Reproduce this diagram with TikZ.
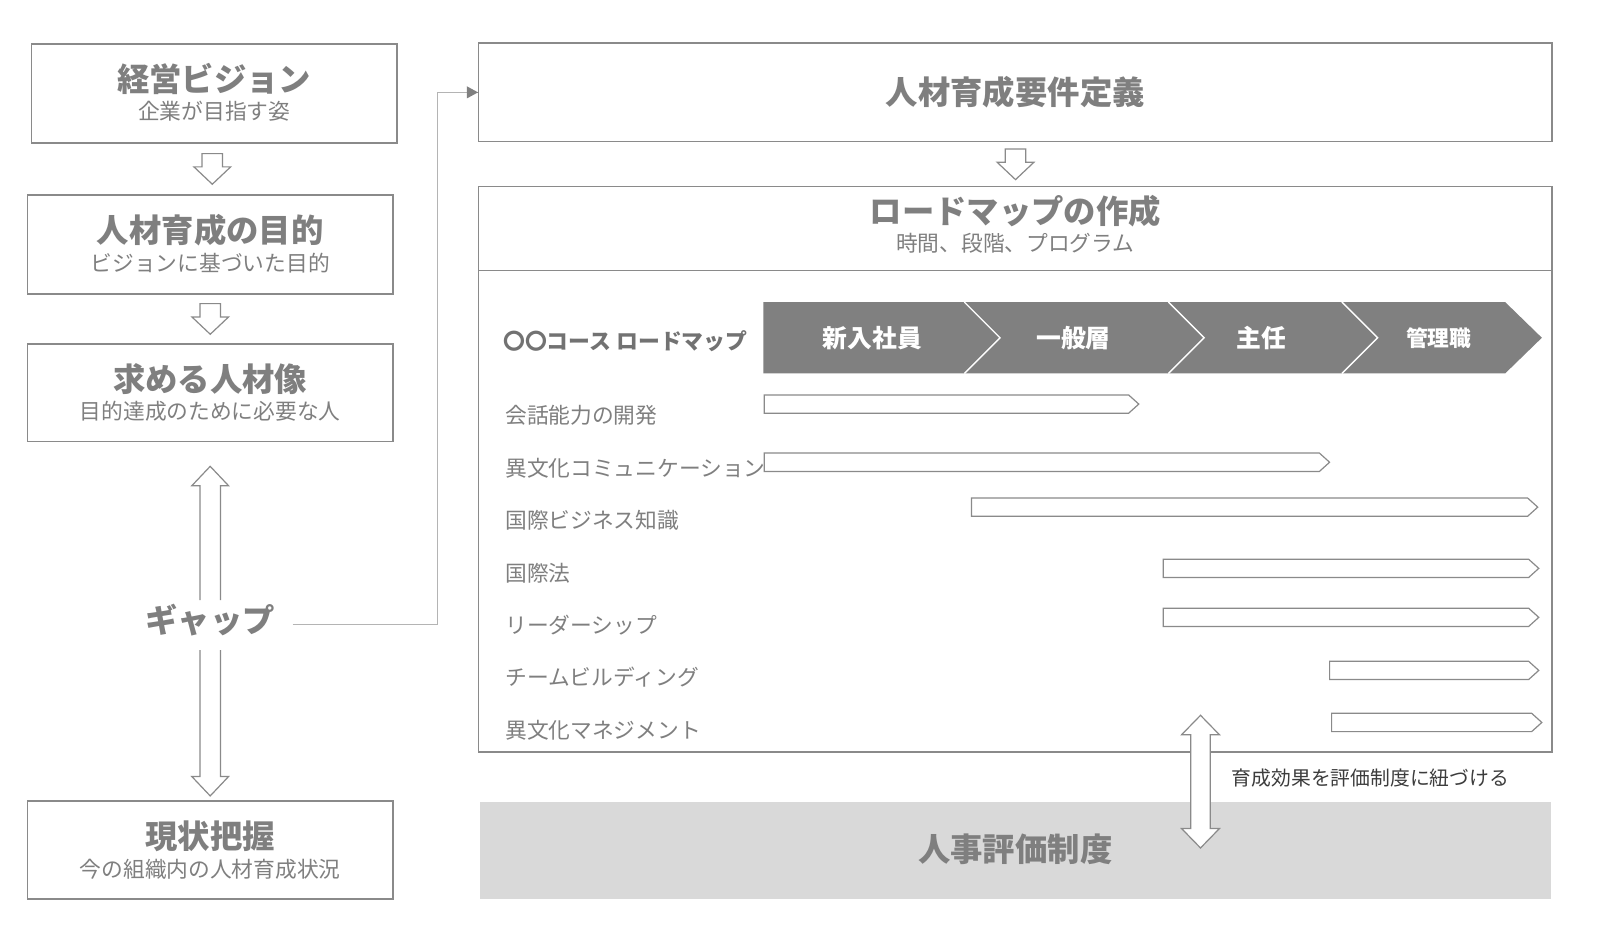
\documentclass[tikz,border=0pt]{standalone}
\usepackage{fontspec}
\setmainfont{Noto Sans CJK JP}
\usetikzlibrary{arrows.meta,calc}
\definecolor{tg}{HTML}{7F7F7F}
\definecolor{bd}{HTML}{8A8A8A}
\definecolor{chev}{HTML}{808080}
\definecolor{pale}{HTML}{D9D9D9}
\definecolor{ln}{HTML}{B4B4B4}
\definecolor{dk}{HTML}{3C3C3C}
\tikzset{
  box/.style={draw=bd, line width=1.3pt, fill=white, minimum width=358pt, minimum height=97pt, inner sep=0pt},
  ttl/.style={font=\fontsize{31.7}{32}\selectfont\bfseries, text=tg, inner sep=0pt},
  sub/.style={font=\fontsize{21.3}{22}\selectfont, text=tg, inner sep=0pt},
  lbl/.style={font=\fontsize{21.3}{22}\selectfont, text=tg, inner sep=0pt, anchor=west},
  chl/.style={font=\fontsize{24.3}{25}\selectfont\bfseries, text=white, inner sep=0pt},
  bar/.style={draw=bd, line width=1.2pt, fill=white, line join=miter},
  harrow/.style={draw=bd, line width=1.2pt, fill=white, line join=miter},
  conn/.style={draw=ln, line width=1.2pt},
  divl/.style={draw=white, line width=1.4pt},
}
\newcommand\blockdown{%
  \draw[harrow] (-10,-15) -- (10,-15) -- (10,-2) -- (18,-2) -- (0,15) -- (-18,-2) -- (-10,-2) -- cycle;}
\newcommand\rmbar[3]{% x start, x end, y center
  \draw[bar] (#1,#3-9) -- (#2-10,#3-9) -- (#2,#3) -- (#2-10,#3+9) -- (#1,#3+9) -- cycle;}
\begin{document}
\begin{tikzpicture}[x=1pt,y=-1pt]
\useasboundingbox (0,0) rectangle (1600,943);
\begin{scope}[scale=1.0204, transform shape]
% left column
\node[box] (b1) at (210,91.5) {};
\node[ttl] (b1t) at (210,77) {経営ビジョン};
\node[sub] (b1s) at (210,109) {企業が目指す姿};

\node[box] (b2) at (206,239.5) {};
\node[ttl] (b2t) at (206,226) {人材育成の目的};
\node[sub] (b2s) at (206,258) {ビジョンに基づいた目的};

\node[box, minimum height=96pt] (b3) at (206,385) {};
\node[ttl] (b3t) at (206,371) {求める人材像};
\node[sub] (b3s) at (206,403) {目的達成のために必要な人};

\node[box, minimum height=96pt] (b4) at (206,833) {};
\node[ttl] (b4t) at (206,820) {現状把握};
\node[sub] (b4s) at (206,852) {今の組織内の人材育成状況};

\begin{scope}[shift={($(b1.south)!0.5!(b2.north)$)}]\blockdown\end{scope}
\begin{scope}[shift={($(b2.south)!0.5!(b3.north)$)}]\blockdown\end{scope}

\node[ttl] (gap) at (206,608) {ギャップ};
\draw[harrow] (196,588) -- (196,476) -- (188,476) -- (206,457) -- (224,476) -- (216,476) -- (216,588);
\draw[harrow] (196,637) -- (196,761) -- (188,761) -- (206,780) -- (224,761) -- (216,761) -- (216,637);

% right column
\node[box, minimum width=1052pt] (req) at (995,90.5) {};
\node[ttl] (reqt) at (995,90) {人材育成要件定義};

\node[box, minimum width=1052pt, minimum height=554pt] (rm) at (995,460) {};
\draw[draw=bd, line width=1.3pt] (rm.west |- 0,265) -- (rm.east |- 0,265);
\node[ttl] (rmt) at (995,207) {ロードマップの作成};
\node[sub] (rms) at (995,238) {時間、段階、プログラム};

\begin{scope}[shift={($(req.south)!0.5!(rm.north)$)}]\blockdown\end{scope}

\draw[conn] ([xshift=17pt,yshift=-4pt]gap.east) -| ([xshift=-40pt]req.west)
  -- (req.west);
\fill[chev] (req.west) -- ++(-11,-6) -- ++(0,12) -- cycle;

% chevron band
\fill[chev] (748,296) -- (1475,296) -- (1511,331) -- (1475,366) -- (748,366) -- cycle;
\draw[divl] (945,296) -- (980,331) -- (945,366);
\draw[divl] (1145,296) -- (1180,331) -- (1145,366);
\draw[divl] (1315,296) -- (1350,331) -- (1315,366);
\node[chl] (c1) at (855,331) {新入社員};
\node[chl] (c2) at (1052,331) {一般層};
\node[chl] (c3) at (1236,331) {主任};
\node[chl, font=\fontsize{21.3}{22}\selectfont\bfseries] (c4) at (1410,331) {管理職};

\node[lbl, font=\fontsize{21.4}{22}\selectfont\bfseries, text=tg!90!black] (rl0) at (493,334) {〇〇コース ロードマップ};
\node[lbl] (rl1) at (495,407) {会話能力の開発};
\node[lbl] (rl2) at (495,459) {異文化コミュニケーション};
\node[lbl] (rl3) at (495,510) {国際ビジネス知識};
\node[lbl] (rl4) at (495,562) {国際法};
\node[lbl] (rl5) at (495,613) {リーダーシップ};
\node[lbl] (rl6) at (495,664) {チームビルディング};
\node[lbl] (rl7) at (495,716) {異文化マネジメント};

\rmbar{749}{1116}{396}
\rmbar{749}{1303}{453}
\rmbar{952}{1507}{497}
\rmbar{1140}{1508}{557}
\rmbar{1140}{1508}{605}
\rmbar{1303}{1508}{657}
\rmbar{1305}{1511}{708}

% evaluation
\fill[pale] (470,786) rectangle (1520,881);
\node[ttl] (ev) at (995,832) {人事評価制度};
\draw[harrow] (1167,720) -- (1158,720) -- (1176.5,701) -- (1195,720) -- (1186,720)
  -- (1186,812) -- (1195,812) -- (1176.5,831) -- (1158,812) -- (1167,812) -- cycle;
\node[font=\fontsize{19.4}{20}\selectfont, text=dk, inner sep=0pt, anchor=west] (evl) at (1207,762) {育成効果を評価制度に紐づける};
\end{scope}
\end{tikzpicture}
\end{document}
